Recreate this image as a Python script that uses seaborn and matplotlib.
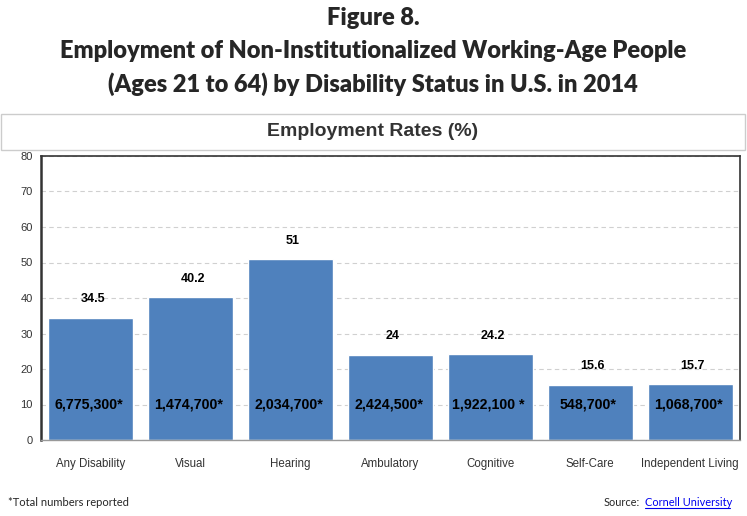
import matplotlib
matplotlib.use("Agg")
import matplotlib.pyplot as plt
from matplotlib.patches import Rectangle
import seaborn as sns
import pandas as pd

categories = ["Any Disability", "Visual", "Hearing", "Ambulatory",
              "Cognitive", "Self-Care", "Independent Living"]
rates = [34.5, 40.2, 51, 24, 24.2, 15.6, 15.7]
rate_labels = ["34.5", "40.2", "51", "24", "24.2", "15.6", "15.7"]
totals = ["6,775,300*", "1,474,700*", "2,034,700*", "2,424,500*",
          "1,922,100 *", "548,700*", "1,068,700*"]
y_ticks = [0, 10, 20, 30, 40, 50, 60, 70, 80]

df = pd.DataFrame({"category": categories, "rate": rates})

sns.set_style("white")
plt.rcParams["font.family"] = ["Liberation Sans", "DejaVu Sans"]

fig = plt.figure(figsize=(7.47, 5.16), dpi=100)
ax = fig.add_axes([41 / 747, 1 - 440 / 516, 699 / 747, 284 / 516])

sns.barplot(data=df, x="category", y="rate", color="#4f81bd", saturation=1,
            width=0.85, ax=ax)

ax.set_ylim(0, 80)
ax.set_xlim(-0.5, len(categories) - 0.5)
ax.set_yticks(y_ticks)
ax.yaxis.grid(True, linestyle=(0, (4, 3)), color="#d0d0d0", linewidth=0.8)
ax.set_axisbelow(True)
ax.set_xlabel("")
ax.set_ylabel("")

for i, (v, lab, tot) in enumerate(zip(rates, rate_labels, totals)):
    ax.text(i + 0.02, v + 3.5, lab, ha="center", va="bottom", fontsize=9,
            fontweight="bold", color="black")
    ax.text(i - 0.02, 10, tot, ha="center", va="center", fontsize=10.2,
            fontweight="bold", color="black")

# ticks on the category boundaries
ax.set_xticks([i - 0.5 for i in range(len(categories) + 1)], minor=True)
ax.tick_params(axis="x", which="major", length=0, pad=13, labelsize=8.3,
               labelcolor="#333333")
ax.tick_params(axis="x", which="minor", length=6, width=1.2, color="#333333",
               direction="out")
ax.tick_params(axis="y", length=5, width=1, color="#333333", direction="out",
               labelsize=8, labelcolor="#333333", pad=1)

for side in ["left", "top", "right"]:
    ax.spines[side].set_color("#333333")
ax.spines["left"].set_linewidth(1.8)
ax.spines["top"].set_linewidth(1.2)
ax.spines["right"].set_linewidth(1.2)
ax.spines["bottom"].set_color("#999999")
ax.spines["bottom"].set_linewidth(1)

# header box
fig.patches.append(Rectangle((1 / 747, 1 - 150 / 516), 744 / 747, 36 / 516,
                             transform=fig.transFigure, facecolor="white",
                             edgecolor="#cccccc", linewidth=1))
fig.text(373 / 747, 1 - 132 / 516, "Employment Rates (%)", ha="center",
         va="center", fontsize=14, fontweight="bold", color="#333333")

# title
title_font = ["Lato", "DejaVu Sans"]
fig.text(373 / 747, 1 - 18 / 516, "Figure 8.", ha="center", va="center",
         fontsize=17, fontweight="heavy", family=title_font)
fig.text(373 / 747, 1 - 51 / 516,
         "Employment of Non-Institutionalized Working-Age People",
         ha="center", va="center", fontsize=17, fontweight="heavy",
         family=title_font)
fig.text(373 / 747, 1 - 84 / 516,
         "(Ages 21 to 64) by Disability Status in U.S. in 2014",
         ha="center", va="center", fontsize=17, fontweight="heavy",
         family=title_font)

# footer
fig.text(8 / 747, 1 - 503 / 516, "*Total numbers reported", ha="left",
         va="center", fontsize=8, family=title_font)
fig.text(604 / 747, 1 - 503 / 516, "Source:", ha="left", va="center",
         fontsize=7.9, family=title_font)
fig.text(645 / 747, 1 - 503 / 516, "Cornell University", ha="left",
         va="center", fontsize=7.9, family=title_font, color="#0000ee")
fig.add_artist(plt.Line2D([645 / 747, 730 / 747],
                          [1 - 508 / 516, 1 - 508 / 516], color="#0000ee",
                          linewidth=0.8))

fig.savefig("out.png", dpi=100)
